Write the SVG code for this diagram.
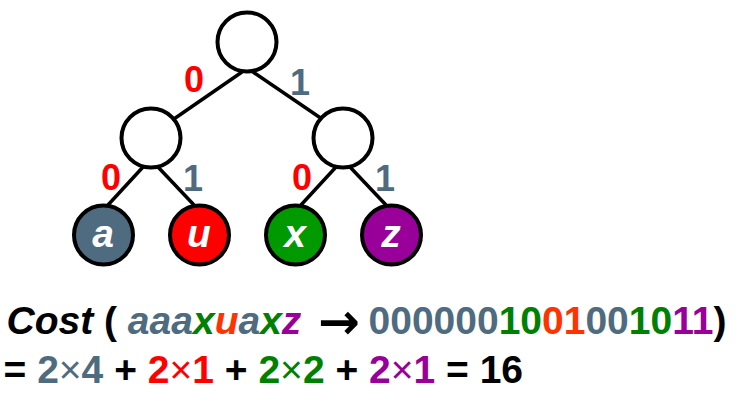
<svg xmlns="http://www.w3.org/2000/svg" width="749" height="402" viewBox="0 0 749 402">
  <style>
    text { font-family: "Liberation Sans", Arial, sans-serif; font-weight: bold; }
    .edge { stroke: #000; stroke-width: 3.5; fill: none; }
    .inner { fill: #fff; stroke: #000; stroke-width: 4; }
    .leaf { stroke: #000; stroke-width: 4; }
    .leaflbl { fill: #fff; font-style: italic; font-size: 39px; text-anchor: middle; }
    .elbl { font-size: 36px; text-anchor: middle; }
    .big { font-size: 39px; }
    .it { font-style: italic; }
    .g { fill: #4F6B80; }
    .r { fill: #FF0000; }
    .o { fill: #FF3300; }
    .gr { fill: #008000; }
    .p { fill: #990099; }
    .k { fill: #000; }
    .x { font-weight: normal; }
    .arr { font-family: "DejaVu Sans", sans-serif; font-size: 50px; }
  </style>
  <rect width="749" height="402" fill="#fff"/>
  <g id="connectors">
    <line class="edge" x1="242" y1="72" x2="171" y2="121"/>
    <line class="edge" x1="253" y1="72" x2="325" y2="121"/>
    <line class="edge" x1="143" y1="167" x2="108" y2="205"/>
    <line class="edge" x1="158" y1="167" x2="194" y2="205"/>
    <line class="edge" x1="336" y1="167" x2="301" y2="205"/>
    <line class="edge" x1="350" y1="167" x2="386" y2="205"/>
    <text class="elbl r" x="194" y="92">0</text>
    <text class="elbl g" x="300" y="95">1</text>
    <text class="elbl r" x="111" y="190">0</text>
    <text class="elbl g" x="193" y="191">1</text>
    <text class="elbl r" x="302" y="190">0</text>
    <text class="elbl g" x="385" y="191">1</text>
  </g>
  <g id="root"><circle class="inner" cx="247" cy="42" r="29.5"/></g>
  <g id="n0"><circle class="inner" cx="151" cy="138" r="29.5"/></g>
  <g id="n1"><circle class="inner" cx="343" cy="138" r="29.5"/></g>
  <g id="leaf-a"><circle class="leaf" cx="103.5" cy="235" r="29.5" fill="#4F6B80"/><text class="leaflbl" x="103" y="247">a</text></g>
  <g id="leaf-u"><circle class="leaf" cx="199.5" cy="235" r="29.5" fill="#FF0000"/><text class="leaflbl" x="199" y="247">u</text></g>
  <g id="leaf-x"><circle class="leaf" cx="295.5" cy="235" r="29.5" fill="#009900"/><text class="leaflbl" x="295" y="247">x</text></g>
  <g id="leaf-z"><circle class="leaf" cx="391.5" cy="235" r="29.5" fill="#990099"/><text class="leaflbl" x="391" y="247">z</text></g>
  <g id="formula">
    <text class="big" x="6.5" y="334"><tspan class="it k">Cost</tspan><tspan class="k"> ( </tspan><tspan class="it g">aaa</tspan><tspan class="it gr">x</tspan><tspan class="it o">u</tspan><tspan class="it g">a</tspan><tspan class="it gr">x</tspan><tspan class="it p">z</tspan><tspan class="k arr" x="318" dy="5">→</tspan><tspan class="g" x="368.5" dy="-5">000000</tspan><tspan class="gr">10</tspan><tspan class="o">01</tspan><tspan class="g">00</tspan><tspan class="gr">10</tspan><tspan class="p">11</tspan><tspan class="k">)</tspan></text>
    <text class="big" x="3.5" y="383"><tspan class="k">= </tspan><tspan class="g">2<tspan class="x">×</tspan>4</tspan><tspan class="k"> + </tspan><tspan class="r">2<tspan class="x">×</tspan>1</tspan><tspan class="k"> + </tspan><tspan class="gr">2<tspan class="x">×</tspan>2</tspan><tspan class="k"> + </tspan><tspan class="p">2<tspan class="x">×</tspan>1</tspan><tspan class="k"> = 16</tspan></text>
  </g>
</svg>
